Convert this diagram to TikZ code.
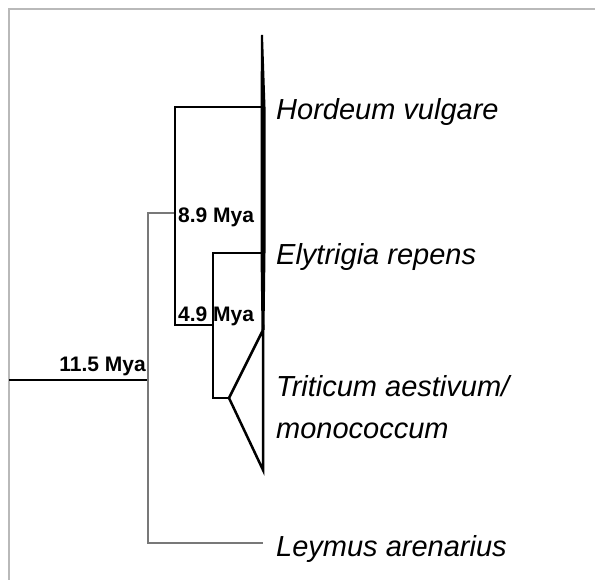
\documentclass[tikz,border=0pt]{standalone}
\usepackage{fontspec}
\newfontfamily\taxafont{Liberation Sans}
\usetikzlibrary{positioning}
\definecolor{BranchGrey}{RGB}{120,120,120}
\definecolor{FrameGrey}{RGB}{185,185,185}
\tikzset{
  branch/.style={draw=black,line width=2.5pt,line join=miter},
  greybranch/.style={draw=BranchGrey,line width=2.5pt,line join=miter},
  framerule/.style={draw=FrameGrey,line width=2pt},
  taxon/.style={anchor=base west,inner sep=0pt,
    font=\taxafont\itshape\fontsize{29}{32}\selectfont},
  age/.style={inner sep=0pt,font=\taxafont\bfseries\fontsize{21}{24}\selectfont}
}

\begin{document}
\begin{tikzpicture}[x=1pt,y=-1pt]
  \useasboundingbox (0,0) rectangle (595,580);
  \draw[framerule] (9,580) -- (9,9) -- (595,9);
  % junctions
  \coordinate (root) at (9,380);
  \coordinate (n115) at (148,380);
  \coordinate (n89) at (175,213);
  \coordinate (n49) at (213,325);
  \coordinate (ntri) at (213,398);
  \coordinate (tip) at (229,398);
  % tips
  \coordinate (hord) at (263,107);
  \coordinate (ely) at (263,253);
  \coordinate (tritop) at (263,330);
  \coordinate (tribot) at (263,470);
  \coordinate (ley) at (263,543);
  % branches
  \draw[branch] (root) -- (n115);
  \draw[greybranch] (n89) -- (n89 -| n115) |- (ley);
  \draw[branch] (hord) -| (n89 |- n49) -- (n49);
  \draw[branch] (ely) -| (ntri) -- (tip);
  \draw[branch] (tritop) -- (tip) -- (tribot) -- cycle;
  \fill (261,35) -- (263,35) -- (265.5,107) -- (265.5,253) -- (264.5,330)
    -- (261.5,330) -- (260.5,253) -- (260.5,107) -- cycle;
  % labels
  \node[taxon] (hordeum) at (276,120) {Hordeum vulgare};
  \node[taxon] (elytrigia) at (276,265) {Elytrigia repens};
  \node[taxon] (triticum) at (276,396) {Triticum aestivum/};
  \node[taxon] (mono) at (276,438) {monococcum};
  \node[taxon] (leymus) at (276,556) {Leymus arenarius};
  \node[age,anchor=base east] (a115) at (146,372) {11.5 Mya};
  \node[age,anchor=base west] (a89) at (178,223) {8.9 Mya};
  \node[age,anchor=base west] (a49) at (178,322) {4.9 Mya};
\end{tikzpicture}
\end{document}
